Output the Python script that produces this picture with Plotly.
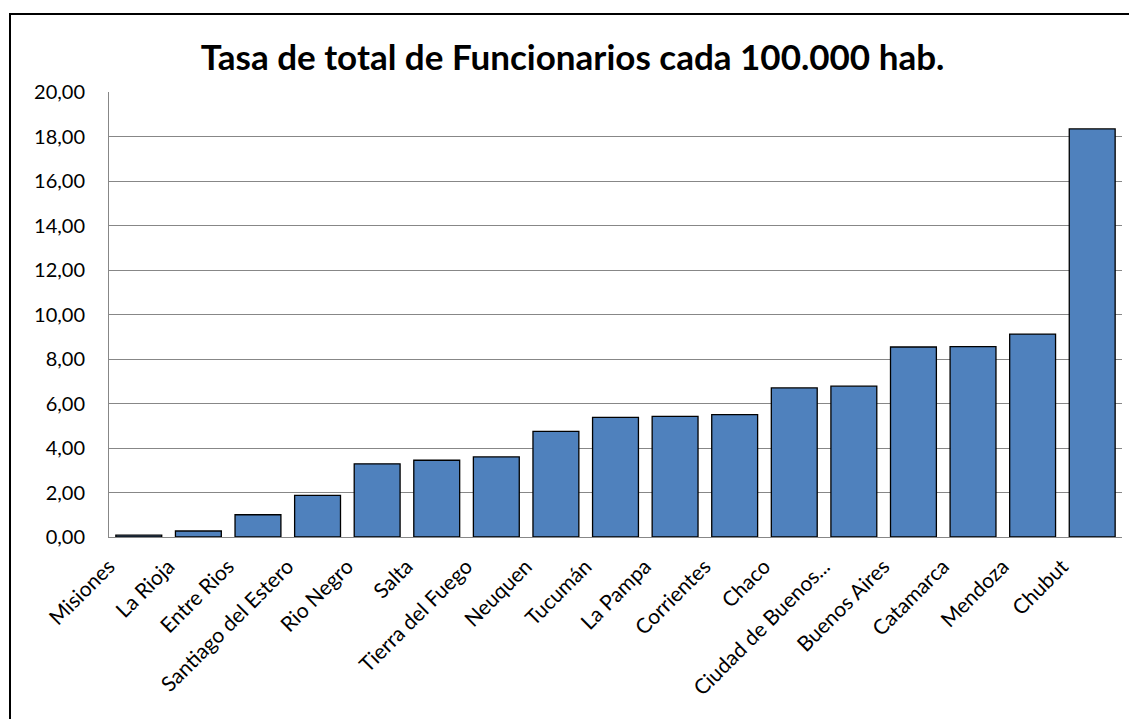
import plotly.graph_objects as go

provincias = [
    "Misiones", "La Rioja", "Entre Rios", "Santiago del Estero", "Rio Negro",
    "Salta", "Tierra del Fuego", "Neuquen", "Tucumán", "La Pampa",
    "Corrientes", "Chaco", "Ciudad de Buenos...", "Buenos Aires",
    "Catamarca", "Mendoza", "Chubut",
]
tasa = [
    0.08, 0.27, 1.00, 1.87, 3.29,
    3.45, 3.60, 4.75, 5.38, 5.42,
    5.50, 6.70, 6.78, 8.54,
    8.56, 9.12, 18.34,
]
y_ticks = [0, 2, 4, 6, 8, 10, 12, 14, 16, 18, 20]

font_family = "Lato, Open Sans, sans-serif"

# the page body has an 8px margin, so the figure is sized/offset for it
W, H = 1129, 711
ml, mt, mr, mb = 101, 84, 15, 182
pw, ph = W - ml - mr, H - mt - mb

fig = go.Figure(
    go.Bar(
        x=provincias,
        y=tasa,
        marker=dict(color="#4F81BD", line=dict(color="#000000", width=1.3)),
        width=0.77,
    )
)

fig.update_layout(
    width=W,
    height=H,
    paper_bgcolor="white",
    plot_bgcolor="white",
    separators=",.",
    showlegend=False,
    margin=dict(l=ml, r=mr, t=mt, b=mb),
    title=dict(
        text="<b>Tasa de total de Funcionarios cada 100.000 hab.</b>",
        x=0.5,
        xanchor="center",
        y=1 - 50 / H,
        yanchor="middle",
        font=dict(family=font_family, size=35, color="#000000"),
    ),
    font=dict(family=font_family, size=20, color="#000000"),
    shapes=[
        dict(
            type="rect", xref="paper", yref="paper",
            x0=(2 - ml) / pw, x1=1.05, y0=-0.5, y1=1 + (mt - 6) / ph,
            line=dict(color="#000000", width=2),
        )
    ],
)

fig.update_xaxes(
    tickangle=-45,
    showline=True,
    linecolor="#878787",
    linewidth=1,
    showgrid=False,
    ticks="",
    ticklabelstandoff=8,
    ticklabelshift=-30,
    tickfont=dict(size=21),
)
fig.update_yaxes(
    range=[0, 20],
    tickvals=y_ticks,
    tickformat=".2f",
    showgrid=True,
    gridcolor="#878787",
    gridwidth=1,
    showline=True,
    linecolor="#878787",
    linewidth=1,
    zeroline=False,
    ticks="",
    ticklabelstandoff=19,
    tickfont=dict(size=20),
)

fig.write_html("out.html")
